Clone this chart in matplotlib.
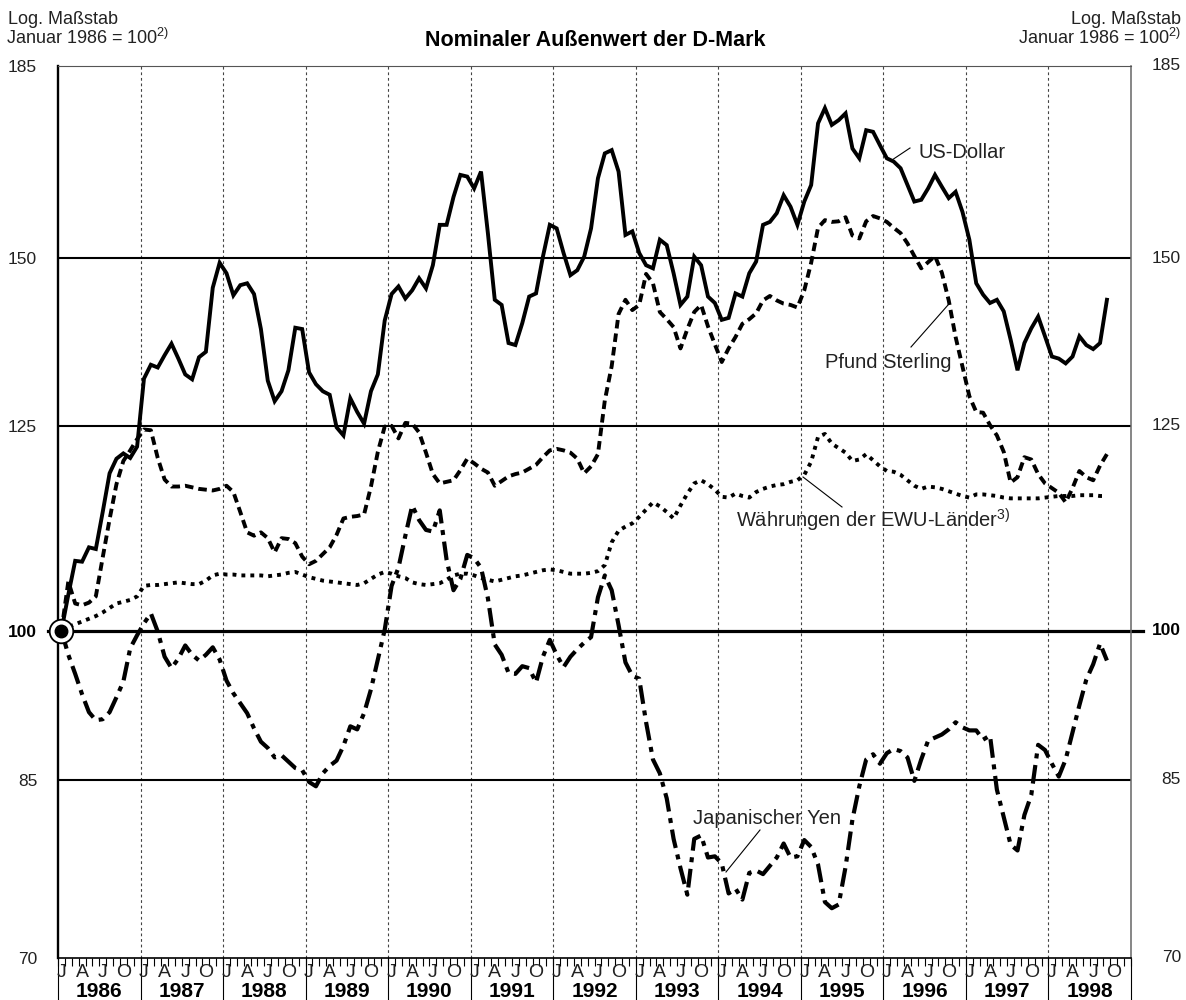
import matplotlib
matplotlib.use("Agg")
import matplotlib.pyplot as plt
import matplotlib.transforms as mtransforms
from matplotlib.lines import Line2D
import numpy as np

plt.rcParams['font.family'] = ['Liberation Sans', 'DejaVu Sans']
plt.rcParams['mathtext.fontset'] = 'custom'
plt.rcParams['mathtext.rm'] = 'Liberation Sans'
plt.rcParams['mathtext.it'] = 'Liberation Sans:italic'
plt.rcParams['mathtext.bf'] = 'Liberation Sans:bold'

# ---------------- data (monthly, Jan 1986 - Sep 1998, Jan 1986 = 100) ----------------
years = list(range(1986, 1999))
month_letters = ["J", "A", "J", "O"]
y_ticks = [70, 85, 100, 125, 150, 185]

us_dollar = [
    100, 104, 107.9, 107.8, 109.5, 109.3, 113.8, 118.7, 120.6, 121.3, 120.7, 122.2,
    131.6, 133.6, 133.2, 135.0, 136.7, 134.5, 132.2, 131.5, 134.7, 135.5, 145.3, 149.3,
    147.6, 144.1, 145.7, 146.0, 144.3, 138.9, 131.3, 128.4, 129.8, 132.8, 139.1, 138.9,
    132.5, 130.8, 129.8, 129.3, 124.8, 123.7, 128.8, 126.9, 125.3, 129.8, 132.2, 140.2,
    144.3, 145.5, 143.6, 144.9, 146.8, 145.2, 148.9, 155.6, 155.6, 160.4, 164.3, 164.0,
    161.9, 164.9, 154.2, 143.4, 142.6, 136.8, 136.5, 139.8, 143.9, 144.4, 150.3, 155.6,
    155.0, 150.9, 147.3, 148.1, 150.3, 155.0, 163.7, 168.2, 168.8, 164.9, 153.9, 154.5,
    150.9, 148.9, 148.4, 153.1, 152.2, 147.6, 142.6, 143.9, 150.3, 148.9, 143.9, 142.9,
    140.3, 140.6, 144.4, 143.9, 147.6, 149.5, 155.6, 156.1, 157.6, 160.7, 158.7, 155.6,
    159.6, 162.5, 173.8, 176.7, 173.5, 174.4, 175.7, 169.1, 167.3, 172.5, 172.2, 169.7,
    167.3, 166.7, 165.5, 162.5, 159.6, 159.9, 161.9, 164.3, 162.2, 160.2, 161.3, 157.8,
    153.1, 146.0, 144.2, 142.9, 143.4, 141.6, 137.3, 132.8, 136.8, 139.0, 140.8, 137.8,
    134.8, 134.5, 133.8, 134.8, 137.8, 136.5, 135.9, 136.8, 143.4,
]

pfund_sterling = [
    100, 105.5, 103.0, 102.8, 103.1, 103.8, 108.3, 112.9, 117.3, 120.3, 121.7, 123.2,
    124.5, 124.4, 120.7, 117.9, 117.0, 117.0, 117.1, 116.9, 116.7, 116.6, 116.5, 116.7,
    117.1, 116.3, 113.8, 111.3, 110.9, 111.3, 110.6, 108.9, 110.6, 110.5, 110.0, 108.4,
    107.5, 107.9, 108.7, 109.5, 111.0, 113.0, 113.2, 113.3, 113.5, 117.0, 121.5, 124.9,
    125.0, 123.3, 125.4, 125.3, 124.1, 121.4, 118.6, 117.4, 117.6, 117.8, 119.1, 120.6,
    120.0, 119.3, 118.8, 117.1, 117.7, 118.3, 118.6, 118.8, 119.3, 119.8, 120.8, 121.7,
    121.9, 121.7, 121.4, 120.6, 118.7, 119.6, 121.2, 128.5, 133.4, 141.2, 143.4, 141.8,
    142.6, 147.5, 146.0, 141.5, 140.4, 139.2, 136.0, 138.9, 141.5, 142.6, 139.3, 136.6,
    134.0, 136.0, 137.7, 139.7, 140.4, 141.3, 143.3, 144.0, 143.3, 142.8, 142.6, 142.2,
    144.9, 149.3, 155.1, 156.4, 156.1, 156.2, 156.9, 153.8, 153.3, 156.2, 157.1, 156.7,
    156.1, 155.1, 154.2, 152.5, 150.4, 148.4, 149.4, 150.4, 147.7, 143.3, 137.7, 133.3,
    129.1, 126.9, 126.8, 125.1, 123.7, 121.5, 117.5, 118.2, 120.8, 120.5, 118.6, 117.4,
    116.8, 116.2, 115.0, 116.8, 119.0, 118.2, 117.8, 119.7, 121.2,
]

ewu_waehrungen = [
    100, 100.4, 100.7, 101.0, 101.3, 101.6, 102.0, 102.5, 103.0, 103.2, 103.4, 103.8,
    105.0, 105.1, 105.1, 105.2, 105.3, 105.4, 105.3, 105.2, 105.2, 105.6, 106.2, 106.4,
    106.3, 106.3, 106.2, 106.2, 106.2, 106.2, 106.1, 106.2, 106.3, 106.5, 106.6, 106.3,
    106.0, 105.8, 105.6, 105.5, 105.4, 105.3, 105.2, 105.1, 105.3, 105.8, 106.3, 106.6,
    106.4, 106.1, 105.9, 105.4, 105.2, 105.1, 105.2, 105.3, 105.7, 106.2, 106.4, 106.4,
    106.2, 105.9, 105.7, 105.5, 105.7, 105.9, 106.1, 106.2, 106.4, 106.6, 106.8, 106.9,
    106.8, 106.6, 106.4, 106.4, 106.4, 106.5, 106.7, 107.4, 110.1, 111.5, 112.0, 112.4,
    113.2, 114.1, 115.0, 114.5, 113.8, 113.0, 114.6, 116.1, 117.4, 117.8, 117.3, 116.6,
    115.7, 115.6, 116.1, 115.8, 115.6, 116.3, 116.7, 117.0, 117.2, 117.3, 117.6, 117.8,
    118.5, 120.2, 123.5, 123.9, 122.6, 122.0, 121.4, 120.3, 120.5, 121.2, 120.4, 119.6,
    119.0, 118.9, 118.5, 117.8, 117.1, 116.7, 117.0, 116.9, 116.7, 116.4, 116.1, 115.8,
    115.6, 116.0, 116.0, 115.9, 115.8, 115.6, 115.5, 115.5, 115.5, 115.5, 115.5, 115.6,
    115.7, 115.8, 115.8, 115.8, 115.9, 115.9, 115.9, 115.8, 115.8,
]

japanischer_yen = [
    100, 97.4, 95.4, 93.3, 91.5, 90.7, 90.8, 91.5, 93.0, 94.6, 98.1, 99.5,
    100.8, 101.9, 99.9, 97.2, 96.0, 97.0, 98.4, 97.4, 96.8, 97.4, 98.2, 96.9,
    94.7, 93.4, 92.4, 91.4, 89.9, 88.6, 88.0, 87.1, 87.3, 86.7, 86.1, 85.9,
    84.8, 84.4, 85.6, 86.3, 86.8, 88.2, 90.1, 89.8, 91.4, 93.8, 96.9, 100.1,
    105.0, 107.1, 110.9, 114.6, 112.8, 111.6, 111.4, 114.0, 108.0, 104.5, 105.8, 108.6,
    108.2, 107.1, 103.6, 98.5, 97.4, 95.5, 95.4, 96.2, 96.0, 94.5, 97.2, 99.0,
    97.4, 96.1, 97.2, 98.0, 98.7, 99.3, 103.7, 106.2, 104.5, 100.6, 96.6, 95.2,
    94.9, 90.5, 86.9, 85.6, 83.3, 79.7, 77.2, 75.0, 79.7, 80.0, 78.1, 78.2,
    77.6, 75.1, 75.5, 74.6, 76.8, 77.0, 76.7, 77.4, 78.1, 79.3, 78.1, 78.2,
    79.6, 79.0, 77.5, 74.4, 73.9, 74.2, 77.3, 81.4, 84.4, 86.9, 87.4, 86.5,
    87.5, 87.9, 87.7, 87.1, 84.9, 86.9, 88.7, 89.0, 89.3, 89.8, 90.5, 90.0,
    89.7, 89.7, 88.8, 89.2, 84.1, 81.6, 79.2, 78.7, 81.8, 83.6, 88.3, 87.8,
    86.5, 85.3, 86.9, 89.5, 92.2, 94.8, 96.4, 98.6, 96.8,
]

# ---------------- figure ----------------
W, H = 1186, 1000
fig = plt.figure(figsize=(W / 100, H / 100), dpi=100)
L, R, T, B = 58, 1131, 66, 958
ax = fig.add_axes([L / W, 1 - B / H, (R - L) / W, (B - T) / H])

n_months = len(years) * 12
x = np.arange(len(us_dollar)) + 0.5

ax.set_yscale('log')
ax.set_ylim(70, 185)
ax.set_xlim(0, n_months)

# horizontal reference lines
for v in [85, 125, 150]:
    ax.axhline(v, color='black', lw=1.5, zorder=1)
trans_ax_data = mtransforms.blended_transform_factory(ax.transAxes, ax.transData)
ax.add_line(Line2D([-0.0093, 1.011], [100, 100], transform=trans_ax_data,
                   color='black', lw=2.3, clip_on=False, zorder=2))

# year separators
trans_data_ax = mtransforms.blended_transform_factory(ax.transData, ax.transAxes)
for k in range(1, len(years)):
    ax.axvline(12 * k, color='#444444', lw=0.8, ls=(0, (2.5, 2.5)), zorder=0.5)
for k in range(0, len(years) + 1):
    ax.add_line(Line2D([12 * k, 12 * k], [0, -0.047], transform=trans_data_ax,
                       color='black', lw=0.8, clip_on=False))

# series
lw = 2.8
ax.plot(x, us_dollar, color='black', lw=lw, solid_joinstyle='miter', zorder=4)
ax.plot(x, pfund_sterling, color='black', lw=lw, ls=(0, (2.2, 1.3)),
        dash_capstyle='butt', zorder=4)
ax.plot(x, ewu_waehrungen, color='black', lw=lw, ls=(0, (1.0, 1.3)),
        dash_capstyle='butt', zorder=4)
ax.plot(x, japanischer_yen, color='black', lw=3.0, ls=(0, (4.5, 1.6, 1.2, 1.6)),
        dash_capstyle='butt', zorder=4)

# base point marker
ax.plot([x[0]], [us_dollar[0]], 'o', ms=17, mfc='white', mec='black', mew=1.3,
        zorder=6, clip_on=False)
ax.plot([x[0]], [us_dollar[0]], 'o', ms=9, mfc='black', mec='black', zorder=7,
        clip_on=False)

# spines
ax.spines['left'].set_linewidth(1.7)
ax.spines['left'].set_color('black')
ax.spines['bottom'].set_linewidth(1.2)
ax.spines['top'].set_linewidth(0.8)
ax.spines['top'].set_color('#555555')
ax.spines['right'].set_linewidth(1.1)
ax.spines['right'].set_color('#666666')

# y ticks / labels
ax.yaxis.set_minor_locator(matplotlib.ticker.NullLocator())
ax.set_yticks(y_ticks)
ax.set_yticklabels([str(v) for v in y_ticks])
ax.tick_params(axis='y', length=0, pad=15, labelsize=12.5, labelcolor='#222222')
for lab in ax.get_yticklabels():
    if lab.get_text() == '100':
        lab.set_fontweight('bold')
        lab.set_color('black')
for v in y_ticks:
    ax.text(1.0466, v, str(v), transform=trans_ax_data, ha='right', va='center',
            fontsize=12.5, color='black' if v == 100 else '#222222',
            fontweight='bold' if v == 100 else 'normal')

# x ticks: month marks
ax.set_xticks([])
ax.set_xticks(np.arange(0, n_months + 1), minor=True)
ax.tick_params(axis='x', which='minor', direction='out', length=6, width=0.8,
               labelbottom=False)
for i, yr in enumerate(years):
    for j, letter in enumerate(month_letters):
        ax.text(12 * i + 3 * j + 0.5, -0.0165, letter, transform=trans_data_ax,
                ha='center', va='center', fontsize=14, color='#222222')
    ax.text(12 * i + 6, -0.0375, str(yr), transform=trans_data_ax,
            ha='center', va='center', fontsize=15, fontweight='bold')

# header texts
hdr = 13
fig.text(8 / W, 1 - 19 / H, "Log. Maßstab", ha='left', va='center', fontsize=hdr,
         color='#222222')
fig.text(6 / W, 1 - 38 / H, "Januar 1986 = 100$^{2)}$", ha='left', va='center',
         fontsize=hdr, color='#222222')
fig.text(1181 / W, 1 - 19 / H, "Log. Maßstab", ha='right', va='center', fontsize=hdr,
         color='#222222')
fig.text(1181 / W, 1 - 38 / H, "Januar 1986 = 100$^{2)}$", ha='right', va='center',
         fontsize=hdr, color='#222222')
fig.text(595 / W, 1 - 40 / H, "Nominaler Außenwert der D-Mark", ha='center',
         va='center', fontsize=15.5, fontweight='bold')

# series annotations
def axpt(px, py):
    return ((px - L) / (R - L), (B - py) / (B - T))

def leader(p0, p1):
    a, b = axpt(*p0), axpt(*p1)
    ax.add_line(Line2D([a[0], b[0]], [a[1], b[1]], transform=ax.transAxes,
                       color='black', lw=0.8, zorder=5))

ann_size = 14.5
ax.text(*axpt(918, 153), "US-Dollar", transform=ax.transAxes, ha='left', va='center',
        fontsize=ann_size, color='#222222')
leader((892, 160), (910, 148))
ax.text(*axpt(888, 362), "Pfund Sterling", transform=ax.transAxes, ha='center',
        va='center', fontsize=ann_size, color='#222222')
leader((911, 347), (948, 305))
ax.text(*axpt(736, 520), "Währungen der EWU-Länder$^{3)}$", transform=ax.transAxes,
        ha='left', va='center', fontsize=ann_size, color='#222222')
leader((803, 477), (842, 507))
ax.text(*axpt(693, 818), "Japanischer Yen", transform=ax.transAxes, ha='left',
        va='center', fontsize=ann_size, color='#222222')
leader((760, 830), (726, 872))

fig.savefig("out.png", dpi=100)
